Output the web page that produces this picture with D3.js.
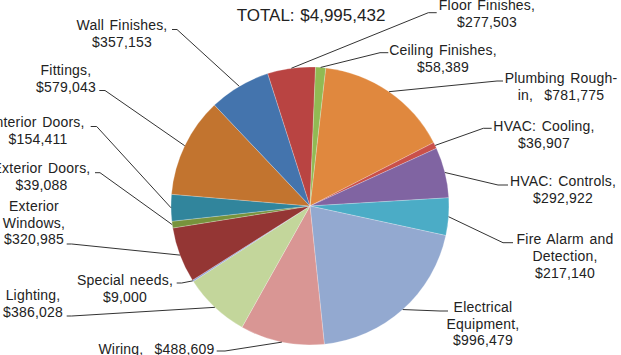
<html>
<head>
<script src="https://d3js.org/d3.v7.min.js"></script>
<style>
body { margin: 0; background: #fff; font-family: 'Liberation Sans', Arial, sans-serif; }
.lbl { font-size: 14px; fill: #222; letter-spacing: 0.2px; word-spacing: 1.5px; }
</style>
</head>
<body>
<div id="chart"></div>
<script>
// data, clockwise from the top (line breaks as in the labels)
var categories = ["Plumbing Rough-\nin", "HVAC: Cooling", "HVAC: Controls", "Fire Alarm and\nDetection",
  "Electrical\nEquipment", "Wiring", "Lighting", "Special needs", "Exterior\nWindows", "Exterior Doors",
  "Interior Doors", "Fittings", "Wall Finishes", "Floor Finishes", "Ceiling Finishes"];
var values = [781775, 36907, 292922, 217140, 996479, 488609, 386028, 9000, 320985, 39088,
  154411, 579043, 357153, 277503, 58389];
var colors = ["#E0883E", "#C9504A", "#8064A2", "#4BACC6", "#93A9D0", "#D99694", "#C3D69B", "#8EA0D8",
  "#943634", "#77933C", "#31859C", "#C2742F", "#4474AD", "#B94442", "#91BA53"];
var titleText = "TOTAL: $4,995,432";

// label placement: text centre x, first baseline, stub [text side x, far x, y], value on same line
var labelLayout = [
  {x: 561, y: 82.7, stub: [503, 497, 81], inline: true},
  {x: 544, y: 130.7, stub: [491.7, 483.3, 128.3]},
  {x: 563, y: 186, stub: [508, 498, 185]},
  {x: 565, y: 244, stub: [513, 503, 242.7]},
  {x: 483, y: 311.7, stub: [448, 440, 311]},
  {x: 156.5, y: 354, stub: [216.7, 225, 351], inline: true},
  {x: 33, y: 300, stub: [66.7, 71.7, 316]},
  {x: 125, y: 285, stub: [176.7, 181.7, 283]},
  {x: 34, y: 210.7, stub: [66.7, 71.7, 244]},
  {x: 41.5, y: 173.3, stub: [95, 100, 172.7]},
  {x: 38, y: 127.3, stub: [90.7, 96.7, 126.5]},
  {x: 66, y: 75, stub: [99.3, 105, 90.5]},
  {x: 122, y: 30, stub: [172, 177, 29.5]},
  {x: 487, y: 10, stub: [436.7, 428.3, 12.7]},
  {x: 443, y: 55, stub: [388.3, 380, 52.7]}
];

var W = 621, H = 355;
var cx = 310, cy = 206, r = 139;
var lineH = 16.8;

var svg = d3.select("#chart").append("svg")
  .attr("width", W).attr("height", H);

var fmt = d3.format("$,");
var start = 6.5 * Math.PI / 180;

var pie = d3.pie()
  .sort(null)
  .startAngle(start)
  .endAngle(start + 2 * Math.PI)
  .value(function(d) { return d; });

var arcs = pie(values);

var arc = d3.arc().innerRadius(0).outerRadius(r);
var edge = d3.arc().innerRadius(r).outerRadius(r);

var g = svg.append("g").attr("transform", "translate(" + cx + "," + cy + ")");

g.selectAll("path.slice")
  .data(arcs)
  .enter().append("path")
  .attr("class", "slice")
  .attr("d", arc)
  .attr("fill", function(d, i) { return colors[i]; })
  .attr("stroke", "rgba(255,255,255,0.45)")
  .attr("stroke-width", 0.5);

// leader lines
svg.selectAll("path.leader")
  .data(arcs)
  .enter().append("path")
  .attr("class", "leader")
  .attr("d", function(d, i) {
    var p = edge.centroid(d), s = labelLayout[i].stub;
    return "M" + (p[0] + cx) + "," + (p[1] + cy) + "L" + s[1] + "," + s[2] + "L" + s[0] + "," + s[2];
  })
  .attr("fill", "none")
  .attr("stroke", "#333")
  .attr("stroke-width", 1);

// labels
var labels = svg.selectAll("text.lbl")
  .data(arcs)
  .enter().append("text")
  .attr("class", "lbl")
  .attr("text-anchor", "middle")
  .attr("x", function(d, i) { return labelLayout[i].x; })
  .attr("y", function(d, i) { return labelLayout[i].y; });

labels.each(function(d, i) {
  var lines = (categories[i] + ",").split("\n");
  if (labelLayout[i].inline) lines[lines.length - 1] += "  " + fmt(values[i]);
  else lines.push(fmt(values[i]));
  var t = d3.select(this);
  lines.forEach(function(s, k) {
    t.append("tspan")
      .attr("x", labelLayout[i].x)
      .attr("dy", k === 0 ? 0 : lineH)
      .style("white-space", "pre")
      .text(s);
  });
});

svg.append("text")
  .attr("x", 311).attr("y", 20.5)
  .attr("text-anchor", "middle")
  .style("font-size", "17px")
  .style("fill", "#222")
  .style("word-spacing", "1px")
  .text(titleText);
</script>
</body>
</html>
